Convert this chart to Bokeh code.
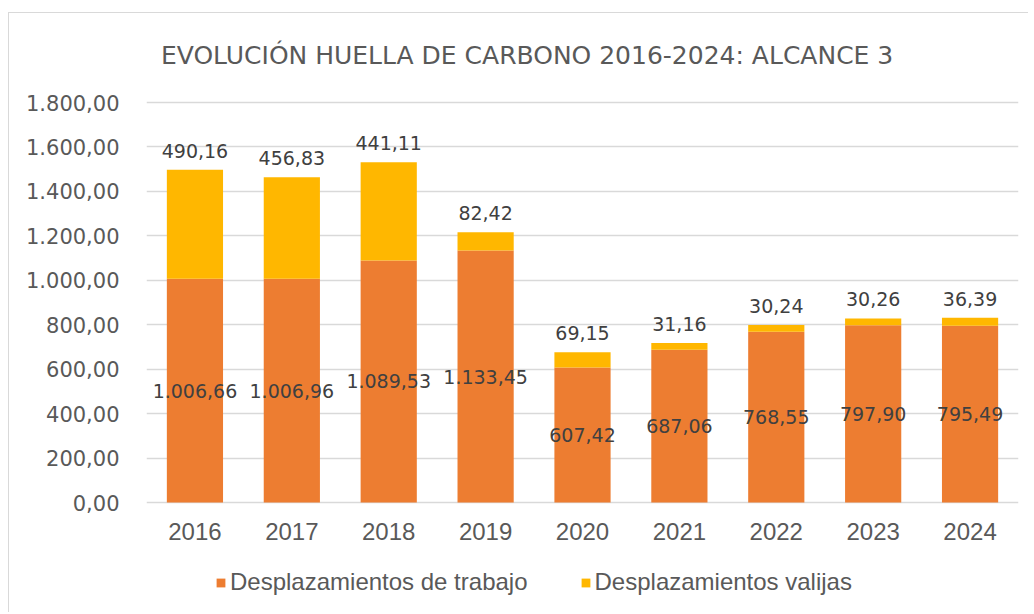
from bokeh.plotting import figure
from bokeh.models import (ColumnDataSource, FactorRange, Range1d, FixedTicker,
                          LabelSet, Legend, LegendItem)
from bokeh.embed import file_html
from bokeh.resources import INLINE
from bokeh.core.properties import value

# ---- data ----
years = ["2016", "2017", "2018", "2019", "2020", "2021", "2022", "2023", "2024"]
trabajo = [1006.66, 1006.96, 1089.53, 1133.45, 607.42, 687.06, 768.55, 797.90, 795.49]
valijas = [490.16, 456.83, 441.11, 82.42, 69.15, 31.16, 30.24, 30.26, 36.39]
series_names = ["Desplazamientos de trabajo", "Desplazamientos valijas"]
y_ticks = [0, 200, 400, 600, 800, 1000, 1200, 1400, 1600, 1800]
y_tick_labels = ["0,00", "200,00", "400,00", "600,00", "800,00", "1.000,00",
                 "1.200,00", "1.400,00", "1.600,00", "1.800,00"]
title_text = "EVOLUCIÓN HUELLA DE CARBONO 2016-2024: ALCANCE 3"

ORANGE = "#ED7D31"
YELLOW = "#FFB700"
TXT = "#595959"
LAB = "#404040"
GRID = "#d9d9d9"


def fmt_es(v):
    s = f"{v:,.2f}"
    return s.replace(",", "X").replace(".", ",").replace("X", ".")


totals = [a + b for a, b in zip(trabajo, valijas)]
src = ColumnDataSource(dict(
    year=years, trabajo=trabajo, valijas=valijas, total=totals,
    zero=[0] * len(years),
    mid=[t / 2 for t in trabajo],
    lab_t=[fmt_es(v) for v in trabajo],
    lab_v=[fmt_es(v) for v in valijas],
))
title_src = ColumnDataSource(dict(x=[years[0]], y=[y_ticks[-1]], t=[title_text]))

# frame extends below zero and above the top tick, so the title, category
# labels and legend live inside it
p = figure(x_range=FactorRange(factors=years, range_padding=0),
           y_range=Range1d(-477, 2196),
           width=1020, height=600, output_backend="svg", toolbar_location=None,
           min_border_left=137, min_border_right=11, min_border_top=1,
           min_border_bottom=5)

p.styles = {"margin-left": "8px", "margin-top": "12px",
            "border-top": "1px solid #d9d9d9", "border-left": "1px solid #d9d9d9"}

r1 = p.vbar(x="year", top="trabajo", bottom=0, width=0.58, source=src,
            fill_color=ORANGE, line_color=None)
r2 = p.vbar(x="year", top="total", bottom="trabajo", width=0.58, source=src,
            fill_color=YELLOW, line_color=None)

p.add_layout(LabelSet(x="year", y="mid", text="lab_t", source=src,
                      text_align="center", text_baseline="middle",
                      text_font=value("DejaVu Sans"), text_font_size="19px",
                      text_color=LAB))
p.add_layout(LabelSet(x="year", y="total", text="lab_v", source=src,
                      y_offset=19,
                      text_align="center", text_baseline="middle",
                      text_font=value("DejaVu Sans"), text_font_size="19px",
                      text_color=LAB))
# category (year) labels
p.add_layout(LabelSet(x="year", y="zero", text="year", source=src,
                      y_offset=-29,
                      text_align="center", text_baseline="middle",
                      text_font=value("Liberation Sans"), text_font_size="24px",
                      text_color=TXT))

# title
p.add_layout(LabelSet(x="x", y="y", text="t", source=title_src,
                      x_offset=-34, y_offset=47,
                      text_align="left", text_baseline="middle",
                      text_font=value("DejaVu Sans"), text_font_size="25px",
                      text_color=TXT))

# axes
p.xaxis.visible = False

p.yaxis.ticker = FixedTicker(ticks=y_ticks)
p.yaxis.major_label_overrides = {t: l for t, l in zip(y_ticks, y_tick_labels)}
p.yaxis.axis_line_color = None
p.yaxis.major_tick_line_color = None
p.yaxis.minor_tick_line_color = None
p.yaxis.major_label_standoff = 21
p.yaxis.major_label_text_font = "DejaVu Sans"
p.yaxis.major_label_text_font_size = "21px"
p.yaxis.major_label_text_color = TXT

p.xgrid.grid_line_color = None
p.ygrid.grid_line_color = GRID
p.ygrid.grid_line_width = 1.5
p.ygrid.ticker = FixedTicker(ticks=y_ticks)
p.outline_line_color = None

legend = Legend(items=[LegendItem(label=series_names[0], renderers=[r1]),
                       LegendItem(label=series_names[1], renderers=[r2])],
                orientation="horizontal", location=(69, 12),
                glyph_width=11, glyph_height=11, label_standoff=4, spacing=52,
                padding=0, margin=0, border_line_color=None,
                background_fill_alpha=0,
                label_text_font="Liberation Sans", label_text_font_size="24px",
                label_text_color=TXT)
p.add_layout(legend)

open("out.html", "w").write(file_html(p, INLINE))
